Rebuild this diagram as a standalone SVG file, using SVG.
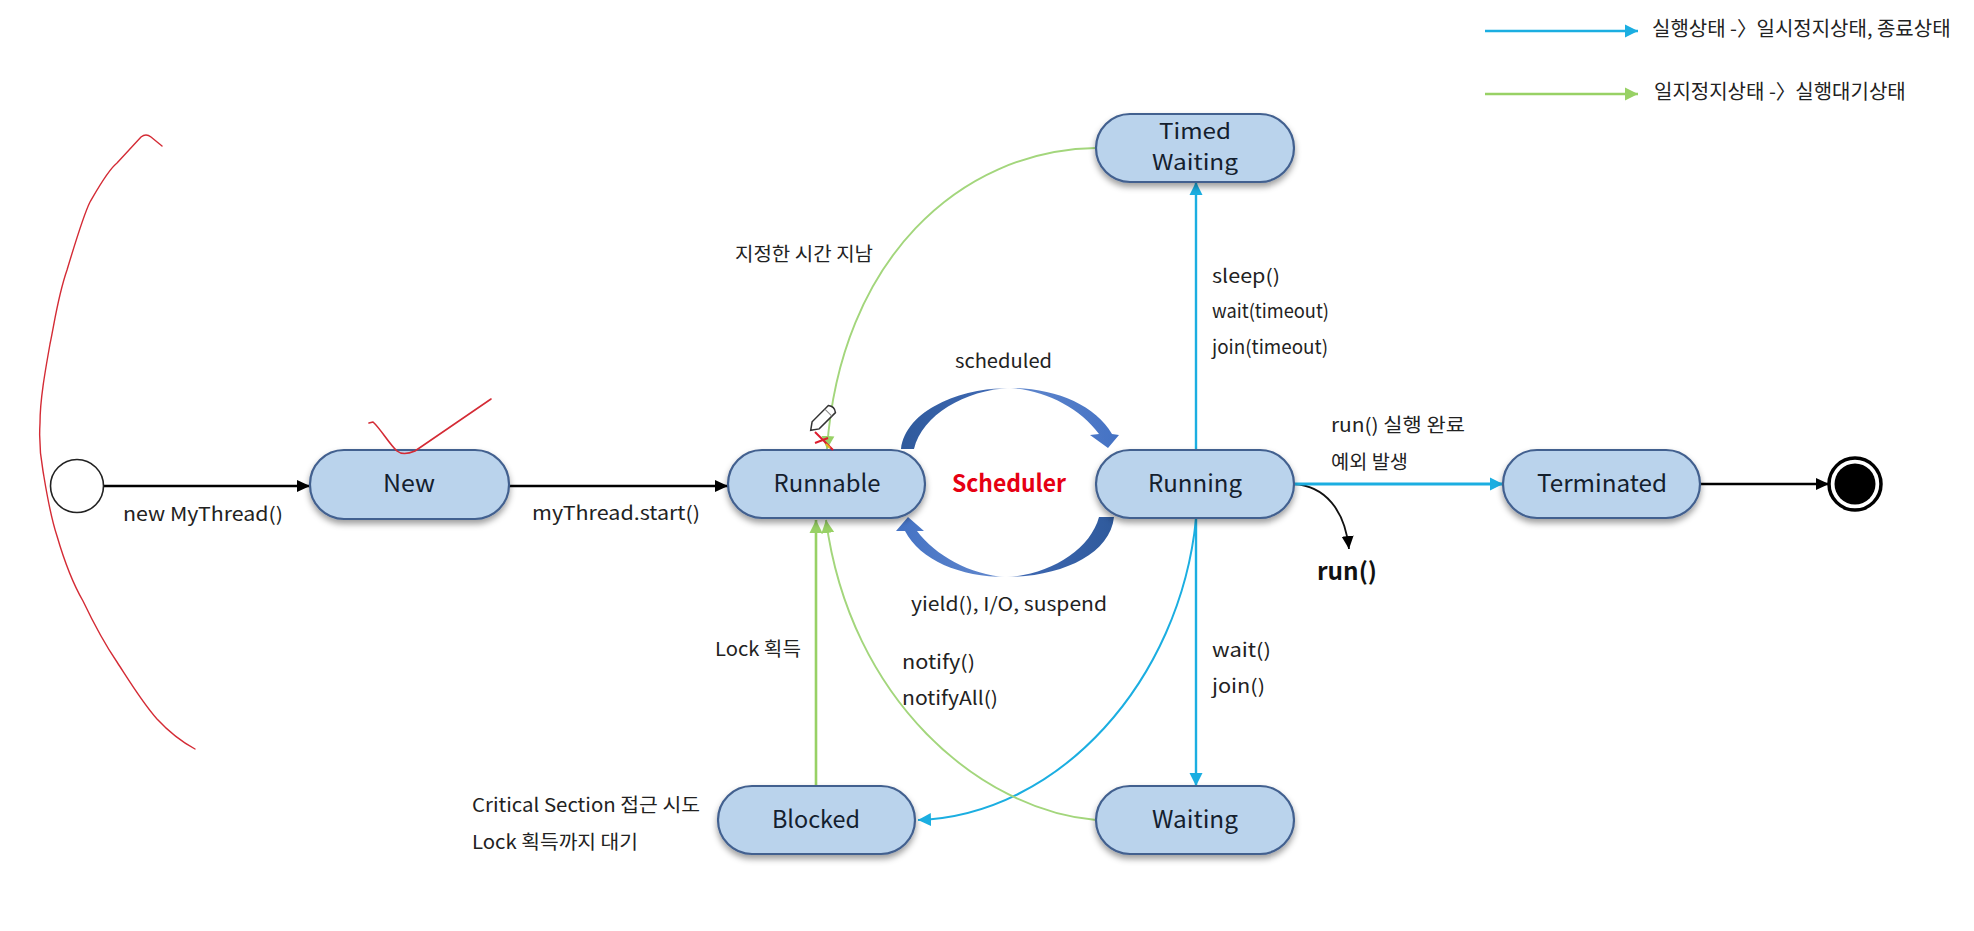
<svg xmlns="http://www.w3.org/2000/svg" width="1974" height="931" viewBox="0 0 1974 931">
<style>
text{font-family:"Noto Sans CJK KR","Noto Sans",sans-serif;fill:#222;font-size:19px}
.n rect{fill:#BAD3EC;stroke:#42608F;stroke-width:2.2;filter:url(#sh)}
.n text{font-size:24px;text-anchor:middle;fill:#14202e}
.c path,.c line{fill:none}
.k{stroke:#000;stroke-width:2.4;marker-end:url(#mk)}
.b{stroke:#1BAEE1;stroke-width:2.4;marker-end:url(#mb)}
.g{stroke:#A3D67C;stroke-width:1.9;marker-end:url(#mg)}
.r{fill:none;stroke:#D42B35;stroke-width:1.4;stroke-linecap:round;stroke-linejoin:round}
.lg{font-size:20px}
</style>
<defs>
<filter id="sh" x="-10%" y="-15%" width="120%" height="140%"><feDropShadow dx="0" dy="4" stdDeviation="3" flood-color="#000" flood-opacity=".38"/></filter>
<marker id="mk" markerUnits="userSpaceOnUse" markerWidth="14" markerHeight="14" refX="13" refY="7" orient="auto"><path d="M0 1L13 7L0 13Z" fill="#000"/></marker>
<marker id="mb" markerUnits="userSpaceOnUse" markerWidth="14" markerHeight="14" refX="13" refY="7" orient="auto"><path d="M0 0.5L13 7L0 13.5Z" fill="#1BAEE1"/></marker>
<marker id="mg" markerUnits="userSpaceOnUse" markerWidth="14" markerHeight="14" refX="13" refY="7" orient="auto"><path d="M0 0.5L13 7L0 13.5Z" fill="#98D165"/></marker>
<linearGradient id="gt" gradientUnits="userSpaceOnUse" x1="901" y1="0" x2="1119" y2="0"><stop offset="0" stop-color="#2F5A9C"/><stop offset=".4" stop-color="#3E68B2"/><stop offset=".49" stop-color="#f2f5fb"/><stop offset=".53" stop-color="#5f86cc"/><stop offset="1" stop-color="#4472C4"/></linearGradient>
<linearGradient id="gb" gradientUnits="userSpaceOnUse" x1="1114" y1="0" x2="896" y2="0"><stop offset="0" stop-color="#2F5A9C"/><stop offset=".42" stop-color="#3E68B2"/><stop offset=".5" stop-color="#f2f5fb"/><stop offset=".55" stop-color="#5f86cc"/><stop offset="1" stop-color="#4472C4"/></linearGradient>
</defs>
<rect width="1974" height="931" fill="#fff"/>

<g id="annotations-back">
<path class="r" d="M162 146L151 137Q146 133 141 137L117 163C108 170 97 190 90 202C85 212 73 250 67 270C58 296 55 320 50 344C45 372 40 400 40 423C39 440 40 455 43 471C47 495 50 515 57 536C64 560 72 582 83 601C93 622 104 643 117 662C130 682 142 702 157 719C170 733 182 742 195 749"/>
</g>

<g id="connectors" class="c">
<line class="k" x1="104" y1="486" x2="310" y2="486"/>
<line class="k" x1="509" y1="486" x2="728" y2="486"/>
<line class="k" x1="1700" y1="484" x2="1829" y2="484"/>
<path style="stroke:#111;stroke-width:1.8;marker-end:url(#mk)" d="M1294 484C1325 486 1345 510 1349 549"/>
<line class="b" style="stroke-width:3" x1="1294" y1="484" x2="1503" y2="484"/>
<line class="b" x1="1196" y1="449" x2="1196" y2="182"/>
<line class="b" x1="1196" y1="518" x2="1196" y2="786"/>
<path class="b" style="stroke-width:2" d="M1196 519C1180 680 1060 815 918 820"/>
<path class="g" d="M1096 148C960 150 840 260 827 449"/>
<path class="g" d="M1096 820C980 810 850 700 826 520"/>
<line class="g" style="stroke-width:2.6;stroke:#98D165" x1="816" y1="786" x2="816" y2="520"/>
<line class="b" x1="1485" y1="31" x2="1638" y2="31"/>
<line class="g" style="stroke-width:2.6;stroke:#98D165" x1="1485" y1="94" x2="1638" y2="94"/>
<path id="sched-top" style="fill:url(#gt)" d="M901 449C906 410 960 388 1010 388C1055 388 1095 405 1112 434L1119 435L1108 448L1090 435L1099 434C1080 408 1045 390 1010 388C965 390 922 415 914 449Z"/>
<path id="sched-bottom" style="fill:url(#gb)" d="M1114 517C1110 555 1060 577 1006 577C960 577 920 560 905 531L896 531L908 517L924 531L917 531C935 555 970 575 1006 577C1050 575 1090 550 1099 517Z"/>
</g>

<g id="start"><circle cx="77" cy="486" r="26.5" fill="#fff" stroke="#222" stroke-width="1.6"/></g>
<g id="new" class="n"><rect x="310" y="450" width="199" height="69" rx="34"/><text x="409" y="492" textLength="52" lengthAdjust="spacingAndGlyphs">New</text></g>
<g id="runnable" class="n"><rect x="728" y="450" width="197" height="68" rx="34"/><text x="827" y="492" textLength="107" lengthAdjust="spacingAndGlyphs">Runnable</text></g>
<g id="running" class="n"><rect x="1096" y="450" width="198" height="68" rx="34"/><text x="1195" y="492" textLength="94" lengthAdjust="spacingAndGlyphs">Running</text></g>
<g id="terminated" class="n"><rect x="1503" y="450" width="197" height="68" rx="34"/><text x="1602" y="492" textLength="130" lengthAdjust="spacingAndGlyphs">Terminated</text></g>
<g id="timed-waiting" class="n"><rect x="1096" y="114" width="198" height="68" rx="34"/><text x="1195" y="139" textLength="72" lengthAdjust="spacingAndGlyphs" style="font-size:21px">Timed</text><text x="1195" y="170" textLength="86" lengthAdjust="spacingAndGlyphs" style="font-size:21px">Waiting</text></g>
<g id="blocked" class="n"><rect x="718" y="786" width="197" height="68" rx="34"/><text x="816" y="828" textLength="88" lengthAdjust="spacingAndGlyphs">Blocked</text></g>
<g id="waiting" class="n"><rect x="1096" y="786" width="198" height="68" rx="34"/><text x="1195" y="828" textLength="86" lengthAdjust="spacingAndGlyphs">Waiting</text></g>
<g id="end"><circle cx="1855" cy="484" r="26" fill="#fff" stroke="#000" stroke-width="3.5"/><circle cx="1855" cy="484" r="20.5" fill="#000"/></g>

<g id="labels">
<text x="123" y="521" textLength="160" lengthAdjust="spacingAndGlyphs">new MyThread()</text>
<text x="532" y="520" textLength="168" lengthAdjust="spacingAndGlyphs">myThread.start()</text>
<text x="735" y="261" textLength="138" lengthAdjust="spacingAndGlyphs">지정한 시간 지남</text>
<text x="955" y="368" textLength="97" lengthAdjust="spacingAndGlyphs">scheduled</text>
<text x="952" y="492" textLength="114" lengthAdjust="spacingAndGlyphs" style="font-size:24px;font-weight:700;fill:#E60012">Scheduler</text>
<text x="911" y="611" textLength="196" lengthAdjust="spacingAndGlyphs">yield(), I/O, suspend</text>
<text x="1212" y="283" textLength="68" lengthAdjust="spacingAndGlyphs">sleep()</text>
<text x="1212" y="318" textLength="117" lengthAdjust="spacingAndGlyphs">wait(timeout)</text>
<text x="1212" y="354" textLength="116" lengthAdjust="spacingAndGlyphs">join(timeout)</text>
<text x="1331" y="432" textLength="134" lengthAdjust="spacingAndGlyphs">run() 실행 완료</text>
<text x="1331" y="469" textLength="77" lengthAdjust="spacingAndGlyphs">예외 발생</text>
<text x="1317" y="580" textLength="60" lengthAdjust="spacingAndGlyphs" style="font-size:24px;font-weight:700;fill:#111">run()</text>
<text x="1212" y="657" textLength="59" lengthAdjust="spacingAndGlyphs">wait()</text>
<text x="1212" y="693" textLength="53" lengthAdjust="spacingAndGlyphs">join()</text>
<text x="715" y="656" textLength="86" lengthAdjust="spacingAndGlyphs">Lock 획득</text>
<text x="902" y="669" textLength="73" lengthAdjust="spacingAndGlyphs">notify()</text>
<text x="902" y="705" textLength="96" lengthAdjust="spacingAndGlyphs">notifyAll()</text>
<text x="472" y="812" textLength="228" lengthAdjust="spacingAndGlyphs">Critical Section 접근 시도</text>
<text x="472" y="849" textLength="166" lengthAdjust="spacingAndGlyphs">Lock 획득까지 대기</text>
<text class="lg" x="1652" y="36">실행상태 -〉<tspan dx="-5"> 일시정지상태, 종료상태</tspan></text>
<text class="lg" x="1654" y="99">일지정지상태 -〉<tspan dx="-5"> 실행대기상태</tspan></text>
</g>

<g id="annotations-front">
<path class="r" style="stroke-width:1.6" d="M369 423L373 422C380 428 390 445 397 451Q403 456 415 451L491 399"/>
<path d="M815 432L833 450M815 443L828 438" fill="none" stroke="#DC1C2E" stroke-width="2"/>
<path d="M826 444L830 448" fill="none" stroke="#E8B020" stroke-width="2"/>
<g transform="translate(822 419) rotate(45)"><path d="M-5 -14Q0 -18 5 -14L5 9L0 16L-5 9Z" fill="#fff" stroke="#333" stroke-width="1.5"/><path d="M-5 -9L5 -9" stroke="#888" stroke-width="1"/></g>
</g>
</svg>
